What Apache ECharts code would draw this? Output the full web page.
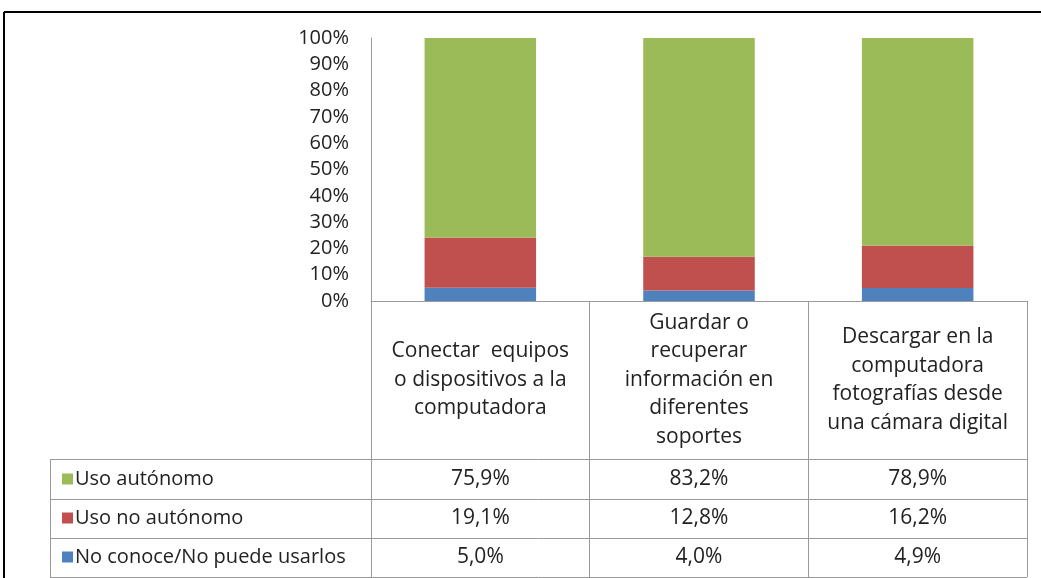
<!DOCTYPE html>
<html>
<head>
<meta charset="utf-8">
<script src="https://cdn.jsdelivr.net/npm/echarts@6/dist/echarts.min.js"></script>
<style>
  html, body { margin: 0; padding: 0; background: #fff; }
  #chart { width: 1041px; height: 578px; }
</style>
</head>
<body>
<div id="chart"></div>
<script>
// data
const categories = [
  'Conectar  equipos\no dispositivos a la\ncomputadora',
  'Guardar o\nrecuperar\ninformación en\ndiferentes\nsoportes',
  'Descargar en la\ncomputadora\nfotografías desde\nuna cámara digital'
]
const seriesNames = ['No conoce/No puede usarlos', 'Uso no autónomo', 'Uso autónomo']
const noConoce = [5.0, 4.0, 4.9]
const usoNoAutonomo = [19.1, 12.8, 16.2]
const usoAutonomo = [75.9, 83.2, 78.9]
const yTicks = [0, 10, 20, 30, 40, 50, 60, 70, 80, 90, 100]

const colors = ['#4F81BD', '#C0504D', '#9BBB59']
const font = '"Open Sans", sans-serif'
const gridLine = '#9a9a9a'

// layout of the data table under the plot
const grid = { left: 371, top: 38, right: 14, bottom: 277 }
const tableLeft = 50
const rowTops = [459, 499, 538, 577]

const chart = echarts.init(document.getElementById('chart'))

const tableRows = [usoAutonomo, usoNoAutonomo, noConoce]
const fmt = v => v.toFixed(1).replace('.', ',') + '%'

function tableGraphic() {
  const right = 1041 - grid.right
  const els = []
  // frame of the whole figure
  els.push({ type: 'line', shape: { x1: 4, y1: 12, x2: 1041, y2: 12 }, style: { stroke: '#000', lineWidth: 2 } })
  els.push({ type: 'line', shape: { x1: 4, y1: 12, x2: 4, y2: 578 }, style: { stroke: '#000', lineWidth: 2 } })
  // horizontal table lines
  rowTops.forEach(y => {
    els.push({ type: 'line', shape: { x1: tableLeft, y1: y + 0.5, x2: right, y2: y + 0.5 }, style: { stroke: gridLine, lineWidth: 1 } })
  })
  els.push({ type: 'line', shape: { x1: tableLeft + 0.5, y1: rowTops[0], x2: tableLeft + 0.5, y2: rowTops[3] }, style: { stroke: gridLine, lineWidth: 1 } })
  // values
  tableRows.forEach((row, r) => {
    const yc = (rowTops[r] + rowTops[r + 1]) / 2
    row.forEach((v, i) => {
      const x = chart.convertToPixel({ xAxisIndex: 0 }, i)
      els.push({
        type: 'text', x: x, y: yc,
        style: { text: fmt(v), font: '21px ' + font, fill: '#222', align: 'center', verticalAlign: 'middle' }
      })
    })
  })
  return els
}

chart.setOption({
  animation: false,
  textStyle: { fontFamily: font },
  grid: grid,
  legend: {
    orient: 'vertical',
    left: 57,
    top: 463,
    data: [seriesNames[2], seriesNames[1], seriesNames[0]],
    icon: 'rect',
    itemWidth: 11,
    itemHeight: 11,
    itemGap: 17,
    selectedMode: false,
    textStyle: { fontSize: 20, color: '#222', lineHeight: 22, padding: [0, 0, 0, -3] }
  },
  xAxis: {
    type: 'category',
    data: categories,
    axisLine: { lineStyle: { color: gridLine } },
    axisTick: { show: true, length: 276, lineStyle: { color: gridLine } },
    axisLabel: {
      interval: 0,
      margin: 79,
      verticalAlign: 'middle',
      fontSize: 21,
      lineHeight: 28.5,
      color: '#222',
      align: 'center'
    }
  },
  yAxis: {
    type: 'value',
    min: yTicks[0],
    max: yTicks[yTicks.length - 1],
    interval: 10,
    axisLine: { show: true, lineStyle: { color: gridLine } },
    axisTick: { show: false },
    splitLine: { show: false },
    axisLabel: { formatter: '{value}%', fontSize: 20, color: '#222', margin: 22 }
  },
  series: [
    { name: seriesNames[0], type: 'bar', stack: 'total', data: noConoce, barWidth: '51%', itemStyle: { color: colors[0] } },
    { name: seriesNames[1], type: 'bar', stack: 'total', data: usoNoAutonomo, itemStyle: { color: colors[1] } },
    { name: seriesNames[2], type: 'bar', stack: 'total', data: usoAutonomo, itemStyle: { color: colors[2] } }
  ]
})

chart.setOption({ graphic: tableGraphic() })
</script>
</body>
</html>
